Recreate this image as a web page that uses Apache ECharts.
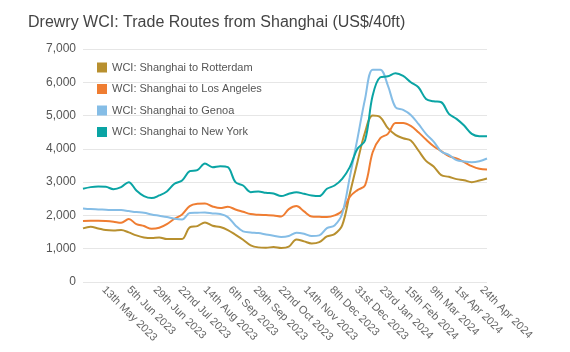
<!DOCTYPE html>
<html>
<head>
<meta charset="utf-8">
<script src="https://cdn.jsdelivr.net/npm/echarts@6/dist/echarts.min.js"></script>
<style>
  html, body { margin: 0; padding: 0; background: #fff; }
  #main { width: 570px; height: 352px; }
</style>
</head>
<body>
<div id="main"></div>
<script>
// weekly readings, first on 24 Apr 2023, last on 29 Apr 2024
var startDate = [2023, 3, 24];
var seriesNames = ['WCI: Shanghai to Rotterdam', 'WCI: Shanghai to Los Angeles', 'WCI: Shanghai to Genoa', 'WCI: Shanghai to New York'];
var colors = ['#b8902f', '#ef7d32', '#85bde6', '#0aa4a4'];

var rotterdam = [1610, 1660, 1610, 1560, 1550, 1560, 1490, 1400, 1340, 1320, 1340, 1290, 1290, 1290,
  1640, 1680, 1790, 1690, 1650, 1560, 1420, 1270, 1100, 1040, 1030, 1050, 1020, 1060, 1280, 1220,
  1160, 1200, 1370, 1440, 1700, 2650, 3600, 4500, 5000, 4950, 4620, 4420, 4320, 4250, 3950, 3640,
  3470, 3210, 3160, 3090, 3060, 3000, 3050, 3110];
var losAngeles = [1830, 1840, 1840, 1830, 1810, 1780, 1890, 1740, 1680, 1600, 1630, 1740, 1900, 2030,
  2280, 2350, 2360, 2270, 2220, 2260, 2180, 2110, 2040, 2020, 2010, 2000, 1970, 2190, 2280, 2120,
  1970, 1960, 1950, 2000, 2140, 2560, 2760, 2900, 3900, 4320, 4450, 4780, 4780, 4690, 4500, 4280,
  4080, 3930, 3780, 3710, 3600, 3480, 3400, 3380];
var genoa = [2210, 2190, 2180, 2170, 2160, 2160, 2130, 2100, 2080, 2030, 1990, 1950, 1900, 1880,
  2070, 2080, 2090, 2060, 2040, 1950, 1700, 1520, 1490, 1470, 1430, 1390, 1350, 1380, 1480, 1450,
  1380, 1400, 1620, 1700, 2050, 3150, 4300, 5500, 6380, 6380, 5900, 5250, 5170, 5020, 4750, 4450,
  4220, 3920, 3820, 3660, 3620, 3600, 3630, 3710];
var newYork = [2800, 2850, 2870, 2860, 2790, 2850, 3000, 2750, 2580, 2520, 2600, 2720, 2950, 3050,
  3330, 3360, 3560, 3450, 3480, 3450, 3000, 2900, 2700, 2720, 2680, 2660, 2580, 2650, 2700, 2650,
  2600, 2580, 2800, 2900, 3100, 3450, 4000, 4250, 5600, 6150, 6180, 6270, 6190, 6000, 5850, 5500,
  5430, 5400, 5050, 4900, 4700, 4450, 4380, 4380];

var tickDates = ['2023-05-13', '2023-06-05', '2023-06-29', '2023-07-22', '2023-08-14', '2023-09-06',
  '2023-09-29', '2023-10-22', '2023-11-14', '2023-12-08', '2023-12-31', '2024-01-23', '2024-02-15',
  '2024-03-09', '2024-04-01', '2024-04-24'];
var tickLabels = ['13th May 2023', '5th Jun 2023', '29th Jun 2023', '22nd Jul 2023', '14th Aug 2023',
  '6th Sep 2023', '29th Sep 2023', '22nd Oct 2023', '14th Nov 2023', '8th Dec 2023', '31st Dec 2023',
  '23rd Jan 2024', '15th Feb 2024', '9th Mar 2024', '1st Apr 2024', '24th Apr 2024'];

var DAY = 86400000;
var t0 = Date.UTC(startDate[0], startDate[1], startDate[2]);
// x positions are measured in days from the first reading
function weekDay(i) { return 7 * i; }
function parseDay(s) {
  var p = s.split('-');
  return Math.round((Date.UTC(+p[0], +p[1] - 1, +p[2]) - t0) / DAY);
}
var tickDays = tickDates.map(parseDay);

function toPairs(arr) {
  return arr.map(function (v, i) { return [weekDay(i), v]; });
}
var allSeries = [rotterdam, losAngeles, genoa, newYork];

var chart = echarts.init(document.getElementById('main'));
chart.setOption({
  animation: false,
  color: colors,
  title: {
    text: 'Drewry WCI: Trade Routes from Shanghai (US$/40ft)',
    left: 23, top: 10,
    textStyle: { fontFamily: 'Liberation Sans, Arial, sans-serif', fontSize: 16, fontWeight: 'normal', color: '#444' }
  },
  legend: {
    orient: 'vertical',
    left: 92, top: 57,
    itemWidth: 10, itemHeight: 10, itemGap: 10.5,
    icon: 'rect',
    data: seriesNames,
    textStyle: { fontFamily: 'Liberation Sans, Arial, sans-serif', fontSize: 11, color: '#555' }
  },
  grid: { left: 83, right: 83, top: 49, bottom: 70, containLabel: false },
  xAxis: {
    type: 'value',
    min: 0,
    max: weekDay(rotterdam.length - 1),
    axisLine: { show: false },
    axisTick: { show: false },
    splitLine: { show: false },
    axisLabel: {
      customValues: tickDays,
      rotate: -45,
      margin: 6,
      fontFamily: 'Liberation Sans, Arial, sans-serif',
      fontSize: 11,
      color: '#666',
      formatter: function (v) {
        var k = tickDays.indexOf(v);
        return k >= 0 ? tickLabels[k] : '';
      }
    }
  },
  yAxis: {
    type: 'value',
    min: 0, max: 7000, interval: 1000,
    axisLine: { show: false },
    axisTick: { show: false },
    splitLine: { lineStyle: { color: '#e6e6e6', width: 1 } },
    axisLabel: {
      margin: 7,
      fontFamily: 'Liberation Sans, Arial, sans-serif',
      fontSize: 12,
      color: '#555',
      formatter: function (v) { return v.toLocaleString('en-US'); }
    }
  },
  series: allSeries.map(function (arr, k) {
    return {
      name: seriesNames[k],
      type: 'line',
      data: toPairs(arr),
      smooth: 0.35,
      showSymbol: false,
      lineStyle: { width: 2, color: colors[k] },
      itemStyle: { color: colors[k] }
    };
  })
});
</script>
</body>
</html>
